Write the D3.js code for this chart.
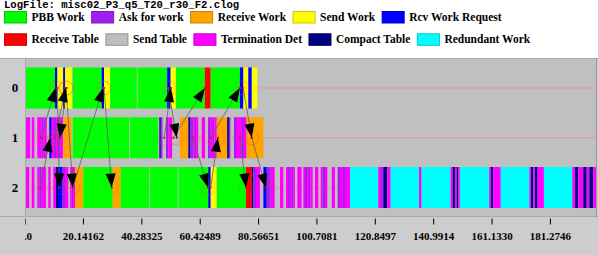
<!DOCTYPE html>
<html>
<head>
<meta charset="utf-8">
<script src="https://cdn.jsdelivr.net/npm/d3@7"></script>
<style>
  body { margin: 0; background: #fff; }
  svg { display: block; }
</style>
</head>
<body>
<svg id="chart" width="598" height="255"></svg>
<script>
const logFile = "LogFile: misc02_P3_q5_T20_r30_F2.clog";

const categories = ["PBB Work", "Ask for work", "Receive Work", "Send Work", "Rcv Work Request",
  "Receive Table", "Send Table", "Termination Det", "Compact Table", "Redundant Work"];
const categoryColors = ["#00ff00", "#a020f0", "#ffa500", "#ffff00", "#0000ff",
  "#ff0000", "#bebebe", "#ff00ff", "#000080", "#00ffff"];
const [PBB, ASK, RCVW, SEND, REQ, RTAB, STAB, TERM, COMP, REDUN] = d3.range(10);

const rows = ["0", "1", "2"];

// [start, end, category]
const row0States = [
  [0.5, 10.5, PBB], [10.5, 11.3, REQ], [11.3, 13.3, SEND], [13.3, 14.0, REQ], [14.0, 16.4, SEND],
  [16.6, 26.6, PBB], [26.6, 27.4, REQ], [27.4, 29.5, SEND], [29.5, 38.7, PBB], [39.0, 49.2, PBB],
  [49.2, 50.4, REQ], [50.4, 52.2, SEND], [52.2, 62.2, PBB], [62.2, 64.2, RTAB], [64.2, 74.3, PBB],
  [74.3, 75.5, REQ], [75.5, 77.2, SEND], [77.2, 78.4, REQ], [78.4, 80.3, SEND]
];

const row1States = [
  [0.5, 1.9, TERM], [2.45, 3.35, TERM], [4.38, 5.9, TERM], [5.9, 6.45, ASK], [6.45, 7.63, TERM],
  [8.52, 9.35, REQ], [9.35, 10.15, TERM], [10.15, 10.83, ASK], [10.83, 11.53, TERM], [11.53, 12.2, ASK],
  [12.2, 13.25, TERM], [13.35, 16.25, RCVW], [16.6, 36.1, PBB], [36.4, 46.1, PBB],
  [46.5, 47.0, COMP], [47.0, 47.65, ASK], [47.65, 48.8, STAB], [48.8, 49.6, ASK], [49.6, 50.9, TERM],
  [53.6, 56.5, RCVW], [56.5, 57.1, COMP], [57.1, 58.2, ASK], [58.2, 58.8, TERM], [58.8, 59.2, ASK],
  [59.2, 59.9, TERM], [61.1, 62.25, TERM], [63.3, 64.0, ASK], [64.0, 65.0, TERM], [65.0, 65.5, ASK],
  [65.5, 66.3, TERM], [66.3, 69.9, RCVW], [69.9, 70.5, COMP], [70.5, 71.1, ASK], [71.1, 72.25, STAB],
  [72.25, 72.95, ASK], [72.95, 74.3, TERM], [74.3, 75.0, TERM], [75.0, 75.7, ASK], [75.7, 76.6, TERM],
  [76.6, 82.4, RCVW]
];

const row2States = [
  [0.5, 1.6, TERM], [2.45, 3.35, TERM], [4.38, 5.07, TERM], [5.07, 5.9, ASK], [5.9, 7.38, TERM],
  [8.18, 9.0, TERM], [9.9, 10.83, TERM], [10.83, 11.53, COMP], [11.53, 12.9, REQ], [12.9, 13.94, ASK],
  [13.94, 15.08, TERM], [15.67, 16.18, TERM], [16.18, 16.7, ASK], [16.7, 17.39, TERM],
  [17.39, 20.26, RCVW], [20.26, 30.4, PBB], [30.4, 33.16, RCVW], [33.16, 43.0, PBB], [43.3, 52.8, PBB],
  [53.1, 63.39, PBB], [63.39, 64.22, REQ], [64.22, 66.29, SEND], [66.29, 76.4, PBB], [76.4, 78.36, RTAB],
  [78.36, 78.98, COMP], [78.98, 79.84, ASK], [79.84, 81.22, TERM],
  [82.4, 83.55, REQ], [83.55, 84.93, ASK], [84.93, 86.3, TERM],
  [88.13, 89.27, TERM],
  [90.2, 90.9, TERM], [90.9, 91.6, ASK], [91.6, 92.27, TERM], [92.27, 92.79, ASK], [92.79, 93.3, TERM],
  [94.1, 95.6, TERM],
  [96.17, 96.76, TERM], [96.76, 97.45, ASK], [97.45, 98.14, TERM], [98.14, 98.65, ASK], [98.65, 99.4, TERM],
  [100.2, 101.35, TERM],
  [102.17, 102.8, TERM], [102.8, 103.66, ASK], [103.66, 104.45, TERM],
  [106.0, 107.1, TERM],
  [108.04, 108.83, ASK], [108.83, 109.87, TERM], [109.87, 110.56, ASK], [110.56, 112.3, TERM],
  [112.3, 122.05, REDUN], [122.05, 122.98, TERM], [122.98, 123.77, ASK], [123.77, 125.15, COMP],
  [125.15, 126.3, TERM], [126.3, 136.1, REDUN], [136.1, 137.0, TERM], [137.0, 147.0, REDUN],
  [147.0, 147.7, TERM], [147.7, 148.5, COMP], [148.5, 149.1, TERM], [149.1, 149.65, COMP], [149.65, 150.2, TERM],
  [150.2, 160.3, REDUN], [160.3, 160.9, TERM], [160.9, 161.7, COMP], [161.7, 164.3, TERM],
  [164.3, 174.2, REDUN], [174.2, 174.7, TERM], [174.7, 175.6, COMP], [175.6, 176.1, TERM],
  [176.1, 177.0, COMP], [177.0, 179.2, TERM],
  [179.2, 189.0, REDUN], [189.0, 189.95, TERM], [189.95, 191.06, COMP], [191.06, 192.79, TERM],
  [192.79, 193.96, COMP], [193.96, 194.86, TERM], [194.86, 196.24, COMP], [196.24, 197.4, TERM]
];

// [fromRow, fromTime, toRow, toTime]
const messages = [
  [2, 5.5, 1, 8.8], [1, 5.6, 0, 10.7], [1, 10.5, 0, 14.2], [0, 14.5, 1, 12.2],
  [0, 11.3, 2, 12.0], [0, 14.3, 2, 16.6], [2, 16.7, 0, 27.05], [0, 27.4, 2, 30.06],
  [1, 48.2, 0, 50.5], [0, 49.5, 1, 52.5], [1, 51.3, 0, 62.2], [1, 64.2, 0, 74.3],
  [2, 64.2, 1, 66.7], [1, 58.1, 2, 63.3], [0, 75.4, 1, 78.4], [1, 74.3, 2, 76.4],
  [1, 78.4, 2, 83.3]
];

const tickValues = [0, 20.14162, 40.28325, 60.42489, 80.56651, 100.7081, 120.8497, 140.9914, 161.1330, 181.2746];
const tickLabels = ["0.0", "20.14162", "40.28325", "60.42489", "80.56651", "100.7081", "120.8497", "140.9914", "161.1330", "181.2746"];

const width = 598, height = 255;
const plot = { left: 26, top: 58, right: 597, bottom: 216 };
const serif = "'Liberation Serif', 'Times New Roman', serif";

const svg = d3.select("#chart");

const x = d3.scaleLinear().domain([0, 201.4162]).range([24.6, 608.3]);
const y = d3.scaleBand().domain(rows).range([63, 212.5]).paddingInner(0.176).paddingOuter(0.09);
const color = d3.scaleOrdinal().domain(d3.range(10)).range(categoryColors);

// title
svg.append("text")
  .attr("x", 4).attr("y", 8)
  .style("font-family", "'Liberation Mono', monospace")
  .style("font-weight", "bold")
  .style("font-size", "10.6px")
  .text(logFile);

// legend, flowing left to right and wrapping
const legend = svg.append("g")
  .style("font-family", serif).style("font-weight", "bold").style("font-size", "11.5px");
let lx = 4, ly = 11;
categories.forEach((name, i) => {
  const item = legend.append("g");
  const label = item.append("text").attr("x", 27.5).attr("y", 9.8).text(name);
  const w = 27.5 + label.node().getComputedTextLength();
  if (lx + w > width - 4) { lx = 4; ly += 22.3; }
  item.attr("transform", `translate(${lx},${ly})`);
  item.insert("rect", "text")
    .attr("x", 0.5).attr("y", 0.5).attr("width", 22).attr("height", 11.5)
    .attr("fill", color(i))
    .attr("stroke", d3.color(color(i)).darker(0.7));
  lx += w + 6.5;
});

// panels
svg.append("rect").attr("x", 0).attr("y", plot.top).attr("width", width).attr("height", height - plot.top)
  .attr("fill", "#cdcdcd");
svg.append("rect").attr("x", plot.left).attr("y", plot.top)
  .attr("width", plot.right - plot.left).attr("height", plot.bottom - plot.top)
  .attr("fill", "#c0c0c0");
svg.append("line").attr("x1", 0).attr("x2", width).attr("y1", plot.top + 0.5).attr("y2", plot.top + 0.5)
  .attr("stroke", "#a9a9a9");
svg.append("line").attr("x1", plot.left - 0.5).attr("x2", plot.left - 0.5).attr("y1", plot.top).attr("y2", plot.bottom)
  .attr("stroke", "#a9a9a9");
svg.append("line").attr("x1", 0).attr("x2", width).attr("y1", plot.bottom + 0.5).attr("y2", plot.bottom + 0.5)
  .attr("stroke", "#a9a9a9");
svg.append("line").attr("x1", plot.right - 0.5).attr("x2", plot.right - 0.5).attr("y1", plot.top).attr("y2", plot.bottom)
  .attr("stroke", "#9a9a9a");

// row labels
svg.append("g").selectAll("text").data(rows).join("text")
  .attr("x", 15).attr("y", d => y(d) + y.bandwidth() / 2 + 4.5)
  .attr("text-anchor", "middle")
  .style("font-family", serif).style("font-weight", "bold").style("font-size", "13px")
  .text(d => d);

svg.append("clipPath").attr("id", "plotClip").append("rect")
  .attr("x", plot.left).attr("y", plot.top + 1)
  .attr("width", plot.right - plot.left - 1).attr("height", plot.bottom - plot.top - 1);

const g = svg.append("g").attr("clip-path", "url(#plotClip)");
const rowMid = r => y(rows[r]) + y.bandwidth() / 2;

// row centre lines
g.selectAll(".rowline").data(rows).join("line")
  .attr("x1", plot.left).attr("x2", plot.right)
  .attr("y1", d => y(d) + y.bandwidth() / 2).attr("y2", d => y(d) + y.bandwidth() / 2)
  .attr("stroke", "#e39a9a").attr("stroke-width", 1);

// states
[row0States, row1States, row2States].forEach((states, r) => {
  g.append("g").selectAll("rect").data(states).join("rect")
    .attr("x", d => x(d[0]))
    .attr("y", y(rows[r]))
    .attr("width", d => Math.max(0.8, x(d[1]) - x(d[0])))
    .attr("height", y.bandwidth())
    .attr("fill", d => color(d[2]));
});

// event markers
const ends = messages.flatMap(m => [[m[0], m[1]], [m[2], m[3]]]);
g.append("g").selectAll("circle").data(ends).join("circle")
  .attr("cx", d => x(d[1])).attr("cy", d => rowMid(d[0])).attr("r", 7)
  .attr("fill", "none").attr("stroke", "rgba(255,60,60,0.22)");
g.append("g").selectAll("rect").data(ends).join("rect")
  .attr("x", d => x(d[1]) - 1).attr("y", d => rowMid(d[0]) - 1)
  .attr("width", 2).attr("height", 2).attr("fill", "#ff0000");

// messages
g.append("g").selectAll("line").data(messages).join("line")
  .attr("x1", d => x(d[1])).attr("y1", d => rowMid(d[0]))
  .attr("x2", d => x(d[3])).attr("y2", d => rowMid(d[2]))
  .attr("stroke", "#606060").attr("stroke-width", 0.8);

g.append("g").selectAll("path").data(messages).join("path")
  .attr("d", d => {
    const x1 = x(d[1]), y1 = rowMid(d[0]), x2 = x(d[3]), y2 = rowMid(d[2]);
    const a = Math.atan2(y2 - y1, x2 - x1);
    const len = 14, half = 5;
    const bx = x2 - len * Math.cos(a), by = y2 - len * Math.sin(a);
    const px = -Math.sin(a) * half, py = Math.cos(a) * half;
    return `M${x2},${y2}L${bx + px},${by + py}L${bx - px},${by - py}Z`;
  })
  .attr("fill", "#000");

// time axis
svg.append("clipPath").attr("id", "axisClip").append("rect")
  .attr("x", 25).attr("y", plot.bottom + 1).attr("width", width - 25).attr("height", height - plot.bottom);

const axis = svg.append("g")
  .attr("clip-path", "url(#axisClip)")
  .append("g")
  .attr("transform", `translate(0,${plot.bottom + 2.5})`)
  .call(d3.axisBottom(x).tickValues(tickValues).tickFormat((d, i) => tickLabels[i]).tickSize(6).tickPadding(7.5));
axis.select(".domain").remove();
axis.selectAll(".tick line").attr("stroke", "#000");
axis.selectAll("text")
  .style("font-family", serif).style("font-weight", "bold").style("font-size", "11px").attr("fill", "#000");
</script>
</body>
</html>
